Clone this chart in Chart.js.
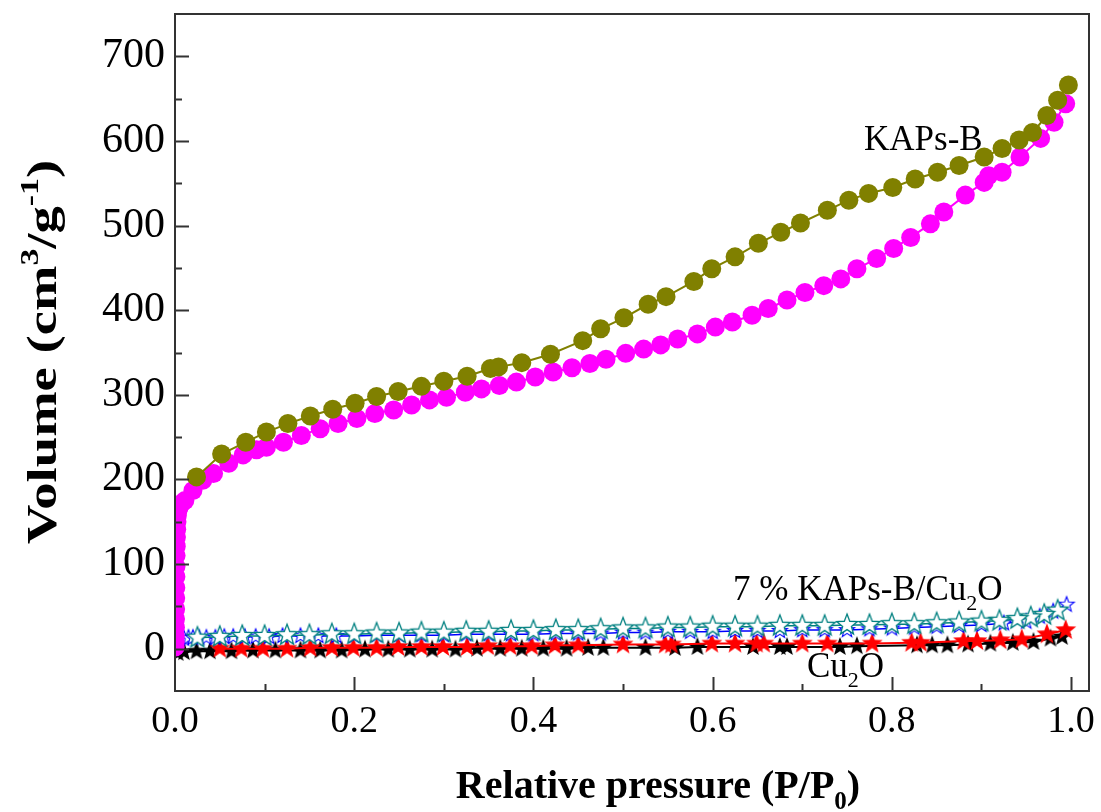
<!DOCTYPE html>
<html>
<head>
<meta charset="utf-8">
<script src="https://cdn.jsdelivr.net/npm/chart.js@4.4.1/dist/chart.umd.min.js"></script>
<style>
  html, body { margin: 0; padding: 0; background: #fff; }
  #chart { display: block; }
</style>
</head>
<body>
<canvas id="chart" width="1101" height="812"></canvas>
<script>
// KAPs-B, adsorption branch (magenta)
const kapsAdsP = [0.0002, 0.0003, 0.0004, 0.0005, 0.0006, 0.0007, 0.0008, 0.0009, 0.001, 0.0011, 0.0012, 0.0014, 0.0016, 0.0019, 0.0022, 0.0026, 0.003, 0.0037, 0.0045, 0.0058, 0.0075, 0.011, 0.02, 0.031, 0.043, 0.060, 0.076, 0.091, 0.102, 0.121, 0.141, 0.162, 0.182, 0.203, 0.223, 0.244, 0.264, 0.284, 0.303, 0.324, 0.342, 0.362, 0.381, 0.402, 0.422, 0.443, 0.463, 0.481, 0.503, 0.523, 0.542, 0.561, 0.583, 0.603, 0.622, 0.644, 0.662, 0.683, 0.703, 0.724, 0.743, 0.761, 0.783, 0.802, 0.821, 0.843, 0.858, 0.882, 0.903, 0.908, 0.923, 0.943, 0.966, 0.981, 0.994];
const kapsAdsV = [2, 8, 15, 25, 35, 47, 60, 72, 85, 97, 110, 121, 132, 141, 150, 157, 162, 165, 167, 170, 172, 175, 187, 199, 207, 219, 229, 235, 238, 244, 252, 260, 266, 272, 278, 282, 288, 294, 297, 303, 307, 311, 315, 321, 327, 332, 337, 342, 349, 354, 359, 366, 372, 380, 386, 394, 402, 412, 421, 429, 437, 449, 461, 473, 486, 502, 516, 536, 551, 559, 563, 581, 603, 622, 644];

// KAPs-B, desorption branch (olive)
const kapsDesP = [0.997, 0.985, 0.973, 0.957, 0.942, 0.923, 0.903, 0.875, 0.851, 0.826, 0.801, 0.774, 0.752, 0.728, 0.698, 0.676, 0.651, 0.625, 0.599, 0.579, 0.548, 0.528, 0.501, 0.475, 0.455, 0.419, 0.387, 0.361, 0.352, 0.326, 0.300, 0.275, 0.249, 0.225, 0.201, 0.176, 0.151, 0.126, 0.102, 0.079, 0.052, 0.024];
const kapsDesV = [666, 648, 630, 610, 601, 591, 581, 571, 563, 555, 545, 538, 530, 518, 503, 492, 479, 463, 449, 434, 416, 407, 391, 378, 364, 348, 338, 333, 331, 322, 316, 310, 304, 298, 290, 283, 275, 266, 256, 244, 230, 203];

// 7 % KAPs-B/Cu2O, adsorption (blue open stars)
const compAdsP = [0.001, 0.003, 0.006, 0.01, 0.015, 0.02, 0.027, 0.035, 0.045, 0.055, 0.065, 0.078, 0.09, 0.105, 0.12, 0.14, 0.16, 0.18, 0.2, 0.225, 0.25, 0.275, 0.3, 0.325, 0.35, 0.375, 0.4, 0.425, 0.45, 0.475, 0.5, 0.525, 0.55, 0.575, 0.6, 0.625, 0.65, 0.675, 0.7, 0.725, 0.75, 0.775, 0.8, 0.825, 0.85, 0.875, 0.9, 0.925, 0.95, 0.965, 0.98, 0.995];
const compAdsV = [5, 10, 12, 12, 13, 13, 13, 13, 13, 14, 14, 14, 14, 14, 15, 15, 15, 15, 15, 16, 16, 16, 16, 17, 17, 17, 17, 18, 18, 18, 19, 19, 20, 20, 20, 21, 21, 21, 22, 22, 22, 23, 24, 25, 26, 27, 28, 30, 32, 38, 44, 52];

// 7 % KAPs-B/Cu2O, desorption (teal open stars)
const compDesP = [0.985, 0.97, 0.955, 0.94, 0.92, 0.9, 0.875, 0.85, 0.825, 0.8, 0.775, 0.75, 0.725, 0.7, 0.675, 0.65, 0.625, 0.6, 0.575, 0.55, 0.525, 0.5, 0.475, 0.45, 0.425, 0.4, 0.375, 0.35, 0.325, 0.3, 0.275, 0.25, 0.225, 0.2, 0.175, 0.15, 0.125, 0.1, 0.075, 0.05, 0.025];
const compDesV = [45, 40, 37, 35, 33, 32, 31, 30, 29, 29, 28, 28, 27, 27, 27, 26, 26, 26, 25, 25, 24, 24, 23, 22, 22, 21, 21, 20, 20, 19, 19, 18, 18, 17, 17, 16, 16, 15, 15, 14, 13];

// Cu2O, adsorption (black stars)
const cuAdsP = [0.003, 0.01, 0.024, 0.039, 0.063, 0.087, 0.112, 0.140, 0.162, 0.186, 0.212, 0.238, 0.262, 0.287, 0.313, 0.337, 0.363, 0.387, 0.411, 0.437, 0.461, 0.478, 0.525, 0.558, 0.583, 0.645, 0.675, 0.683, 0.742, 0.761, 0.828, 0.845, 0.862, 0.885, 0.91, 0.935, 0.958, 0.977, 0.990];
const cuAdsV = [-5, -4, -3, -3, -3, -2, -2, -2, -2, -2, -1, -1, -1, -1, -1, 0, 0, 0, 0, 0, 1, 1, 1, 1, 2, 2, 2, 2, 2, 3, 4, 4, 4, 5, 6, 7, 8, 12, 14];

// Cu2O, desorption (red stars)
const cuDesP = [0.994, 0.973, 0.945, 0.921, 0.895, 0.880, 0.832, 0.822, 0.778, 0.728, 0.700, 0.657, 0.649, 0.625, 0.599, 0.554, 0.547, 0.500, 0.450, 0.424, 0.398, 0.374, 0.349, 0.326, 0.299, 0.275, 0.249, 0.225, 0.199, 0.175, 0.151, 0.125, 0.098, 0.074, 0.050];
const cuDesV = [22, 17, 11, 10, 9, 9, 7, 7, 6, 6, 6, 6, 6, 6, 6, 5, 5, 5, 4, 4, 3, 3, 3, 2, 2, 2, 2, 1, 1, 1, 1, 0, 0, 0, 0];

const xTickLabels = [0.0, 0.2, 0.4, 0.6, 0.8, 1.0];
const yTickLabels = [0, 100, 200, 300, 400, 500, 600, 700];

const toPoints = (ps, vs) => ps.map((p, i) => ({ x: p, y: vs[i] }));

const makeStar = (r, fill, stroke, lw) => {
	const s = Math.ceil(2 * r + lw + 4);
	const c = document.createElement('canvas');
	c.width = s;
	c.height = s;
	const g = c.getContext('2d');
	g.translate(s / 2, s / 2);
	g.beginPath();
	for (let i = 0; i < 10; i++) {
		const rr = i % 2 ? r * 0.42 : r;
		const a = -Math.PI / 2 + i * Math.PI / 5;
		g.lineTo(rr * Math.cos(a), rr * Math.sin(a));
	}
	g.closePath();
	g.fillStyle = fill;
	g.fill();
	if (stroke) {
		g.strokeStyle = stroke;
		g.lineWidth = lw;
		g.stroke();
	}
	return c;
};

const serif = 'Liberation Serif, Times New Roman, serif';

// rich text: parts of {t, sub, sup}
const drawRich = (ctx, parts, x, y, size, weight, align) => {
	const small = Math.round(size * 0.62);
	const widthOf = (p) => {
		ctx.font = weight + ' ' + (p.sub || p.sup ? small : size) + 'px ' + serif;
		return ctx.measureText(p.t).width;
	};
	const total = parts.reduce((s, p) => s + widthOf(p), 0);
	let cx = align === 'center' ? x - total / 2 : x;
	ctx.textBaseline = 'alphabetic';
	ctx.textAlign = 'left';
	parts.forEach((p) => {
		const w = widthOf(p);
		let dy = 0;
		if (p.sub) dy = size * 0.28;
		if (p.sup) dy = -size * 0.42;
		ctx.fillText(p.t, cx, y + dy);
		cx += w;
	});
};

const decor = {
	id: 'decor',
	afterDraw(chart) {
		const { ctx, chartArea: a, scales: { x, y } } = chart;
		ctx.save();
		ctx.strokeStyle = '#333';
		ctx.lineWidth = 2;
		ctx.strokeRect(a.left, a.top, a.right - a.left, a.bottom - a.top);

		ctx.beginPath();
		for (let i = 1; i <= 10; i++) {
			const px = Math.round(x.getPixelForValue(i / 10)) + 0.5;
			const len = i % 2 === 0 ? 14 : 7;
			ctx.moveTo(px, a.bottom);
			ctx.lineTo(px, a.bottom - len);
		}
		for (let v = 0; v <= 700; v += 50) {
			const py = Math.round(y.getPixelForValue(v)) + 0.5;
			const len = v % 100 === 0 ? 14 : 7;
			ctx.moveTo(a.left, py);
			ctx.lineTo(a.left + len, py);
		}
		ctx.stroke();

		ctx.fillStyle = '#000';
		// axis titles
		drawRich(ctx, [{ t: 'Relative pressure (P/P' }, { t: '0', sub: true }, { t: ')' }], 658, 798, 40, 'bold', 'center');
		ctx.save();
		ctx.translate(56, 352);
		ctx.rotate(-Math.PI / 2);
		ctx.scale(1.3, 1);
		drawRich(ctx, [{ t: 'Volume (cm' }, { t: '3', sup: true }, { t: '/g' }, { t: '-1', sup: true }, { t: ')' }], 0, 0, 42, 'bold', 'center');
		ctx.restore();

		// series labels
		drawRich(ctx, [{ t: 'KAPs-B' }], 864, 150, 35, 'normal', 'left');
		drawRich(ctx, [{ t: '7 % KAPs-B/Cu' }, { t: '2', sub: true }, { t: 'O' }], 733, 600, 35, 'normal', 'left');
		drawRich(ctx, [{ t: 'Cu' }, { t: '2', sub: true }, { t: 'O' }], 807, 677, 35, 'normal', 'left');
		ctx.restore();
	}
};

const line = (data, color, width, extra) => Object.assign({
	data: data,
	showLine: true,
	borderColor: color,
	borderWidth: width,
	backgroundColor: color,
	pointBorderWidth: 0,
	clip: 0
}, extra);

const datasets = [
	line(toPoints(kapsDesP, kapsDesV), '#808000', 2, { pointRadius: 9.5 }),
	line(toPoints(kapsAdsP, kapsAdsV), '#ff00ff', 2, { pointRadius: 9.5 }),
	line(toPoints(compDesP, compDesV), '#008080', 1.5, { pointStyle: makeStar(11, '#fff', '#008080', 1.3) }),
	line(toPoints(compAdsP, compAdsV), '#0000ff', 1.5, { pointStyle: makeStar(8, '#fff', '#0000ff', 1.1) }),
	line(toPoints(cuDesP, cuDesV), '#ff0000', 2, { pointStyle: makeStar(11, '#ff0000', null, 0) }),
	line(toPoints(cuAdsP, cuAdsV), '#000000', 2, { pointStyle: makeStar(10, '#000000', null, 0) })
];

const noPad = (scale) => {
	scale.paddingTop = 0;
	scale.paddingBottom = 0;
	scale.paddingLeft = 0;
	scale.paddingRight = 0;
};

new Chart(document.getElementById('chart'), {
	type: 'scatter',
	data: { datasets: datasets },
	plugins: [decor],
	options: {
		responsive: false,
		animation: false,
		devicePixelRatio: 1,
		layout: { padding: { top: 14, right: 12, left: 0, bottom: 0 } },
		plugins: { legend: { display: false }, tooltip: { enabled: false } },
		scales: {
			x: {
				type: 'linear',
				min: 0,
				max: 1.02,
				border: { display: false },
				grid: { display: false, drawTicks: false },
				afterBuildTicks: (scale) => { scale.ticks = xTickLabels.map((v) => ({ value: v })); },
				afterFit: (scale) => { scale.height = 121; noPad(scale); },
				ticks: {
					autoSkip: false,
					maxRotation: 0,
					padding: 8,
					color: '#000',
					font: { family: serif, size: 38 },
					callback: (v) => Number(v).toFixed(1)
				}
			},
			y: {
				type: 'linear',
				min: -50,
				max: 750,
				border: { display: false },
				grid: { display: false, drawTicks: false },
				afterBuildTicks: (scale) => { scale.ticks = yTickLabels.map((v) => ({ value: v })); },
				afterFit: (scale) => { scale.width = 175; noPad(scale); },
				ticks: {
					padding: 10,
					color: '#000',
					font: { family: serif, size: 42 },
					callback: (v) => String(v)
				}
			}
		}
	}
});
</script>
</body>
</html>
